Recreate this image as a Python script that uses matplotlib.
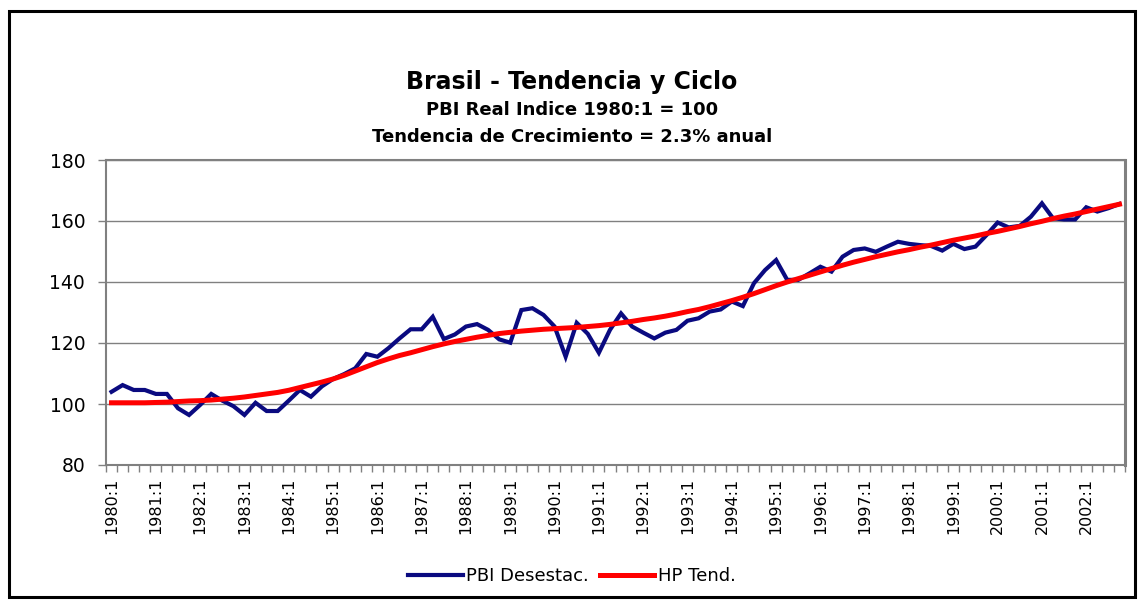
import matplotlib
matplotlib.use("Agg")
import matplotlib.pyplot as plt
from matplotlib.patches import Rectangle
from matplotlib.lines import Line2D

# ---- data (quarterly, 1980:1 - 2002:4) ----
years = list(range(1980, 2003))
quarters = [f"{y}:{q}" for y in years for q in range(1, 5)]

pbi_desestac = [
    104.0, 106.2, 104.6, 104.6, 103.3, 103.3, 98.6, 96.4,      # 1980-1981
    99.7, 103.3, 101.1, 99.3, 96.4, 100.4, 97.7, 97.7,          # 1982-1983
    101.1, 104.6, 102.4, 105.8, 108.2, 109.8, 111.7, 116.4,     # 1984-1985
    115.5, 118.3, 121.5, 124.5, 124.5, 128.6, 121.3, 122.8,     # 1986-1987
    125.4, 126.2, 124.3, 121.2, 120.1, 130.8, 131.4, 129.2,     # 1988-1989
    125.4, 115.5, 126.6, 123.0, 116.8, 124.3, 129.7, 125.4,     # 1990-1991
    123.4, 121.5, 123.4, 124.3, 127.3, 128.1, 130.3, 131.0,     # 1992-1993
    133.6, 132.1, 139.6, 143.9, 147.2, 140.7, 140.7, 142.8,     # 1994-1995
    145.0, 143.4, 148.3, 150.5, 151.0, 149.9, 151.6, 153.2,     # 1996-1997
    152.5, 152.1, 151.8, 150.3, 152.5, 150.8, 151.6, 155.4,     # 1998-1999
    159.5, 157.9, 158.4, 161.4, 165.8, 160.9, 160.5, 160.5,     # 2000-2001
    164.5, 163.1, 164.2, 165.6,                                 # 2002
]

hp_tend = [
    100.4, 100.4, 100.4, 100.4, 100.5, 100.6, 100.8, 101.0,
    101.1, 101.3, 101.6, 101.9, 102.3, 102.8, 103.3, 103.8,
    104.5, 105.4, 106.3, 107.2, 108.2, 109.4, 110.8, 112.2,
    113.6, 114.8, 115.9, 116.8, 117.8, 118.8, 119.7, 120.5,
    121.2, 121.9, 122.5, 123.1, 123.5, 123.9, 124.2, 124.5,
    124.7, 124.9, 125.1, 125.4, 125.7, 126.1, 126.6, 127.1,
    127.7, 128.2, 128.8, 129.5, 130.3, 131.0, 131.9, 132.9,
    133.9, 135.0, 136.2, 137.5, 138.8, 140.0, 141.1, 142.2,
    143.3, 144.4, 145.5, 146.5, 147.4, 148.3, 149.1, 149.9,
    150.6, 151.4, 152.1, 152.9, 153.7, 154.4, 155.1, 155.9,
    156.6, 157.4, 158.2, 159.1, 159.9, 160.8, 161.6, 162.3,
    163.1, 163.9, 164.7, 165.5,
]

y_ticks = [80, 100, 120, 140, 160, 180]
title_lines = ["Brasil - Tendencia y Ciclo",
               "PBI Real Indice 1980:1 = 100",
               "Tendencia de Crecimiento = 2.3% anual"]
series_names = ["PBI Desestac.", "HP Tend."]

# ---- figure ----
plt.rcParams['font.family'] = ['DejaVu Sans']
W, H = 1144, 606
fig = plt.figure(figsize=(W / 100, H / 100), dpi=100)
fig.patch.set_facecolor("white")

# outer frame
fig.patches.append(Rectangle((9 / W, 1 - 597 / H), (1135 - 9) / W, (597 - 11) / H,
                             transform=fig.transFigure, fill=False,
                             edgecolor="black", linewidth=2.2, zorder=0))

left, right, top, bottom = 106, 1125, 160, 465
ax = fig.add_axes([left / W, 1 - bottom / H, (right - left) / W, (bottom - top) / H])

x = list(range(len(quarters)))
blue = "#0a0a80"
red = "#ff0000"
ax.plot(x, pbi_desestac, color=blue, linewidth=3.0, solid_joinstyle="miter", zorder=3)
ax.plot(x, hp_tend, color=red, linewidth=3.6, zorder=4)

ax.set_xlim(-0.5, len(quarters) - 0.5)
ax.set_ylim(80, 180)
ax.set_yticks(y_ticks)
ax.set_yticklabels([str(v) for v in y_ticks], fontsize=13.5)
ax.yaxis.grid(True, color="#808080", linewidth=1.0)
ax.set_axisbelow(True)

major_pos = x[::4]
ax.set_xticks(major_pos)
ax.set_xticklabels(quarters[::4], rotation=90, fontsize=11.5)
ax.tick_params(axis="x", length=0, pad=9)
ax.set_xticks([i - 0.5 for i in range(len(quarters) + 1)], minor=True)
ax.tick_params(axis="x", which="minor", length=5, color="#808080", width=1)
ax.tick_params(axis="y", length=6, color="#808080", width=1, pad=9)

for s in ax.spines.values():
    s.set_color("#808080")
    s.set_linewidth(1.5)
ax.spines["right"].set_linewidth(2.2)

# titles
fig.text(0.5, 1 - 82 / H, title_lines[0], ha="center", va="center",
         fontsize=17, fontweight="bold")
fig.text(0.5, 1 - 110 / H, title_lines[1], ha="center", va="center",
         fontsize=13, fontweight="bold")
fig.text(0.5, 1 - 137 / H, title_lines[2], ha="center", va="center",
         fontsize=13, fontweight="bold")

# legend
handles = [Line2D([], [], color=blue, linewidth=3.0),
           Line2D([], [], color=red, linewidth=3.6)]
fig.legend(handles, series_names, loc="center", bbox_to_anchor=(0.5, 1 - 576 / H),
           ncol=2, frameon=False, fontsize=13, handlelength=3.0,
           handletextpad=0.2, columnspacing=0.6)

fig.savefig("out.png", dpi=100, facecolor="white")
